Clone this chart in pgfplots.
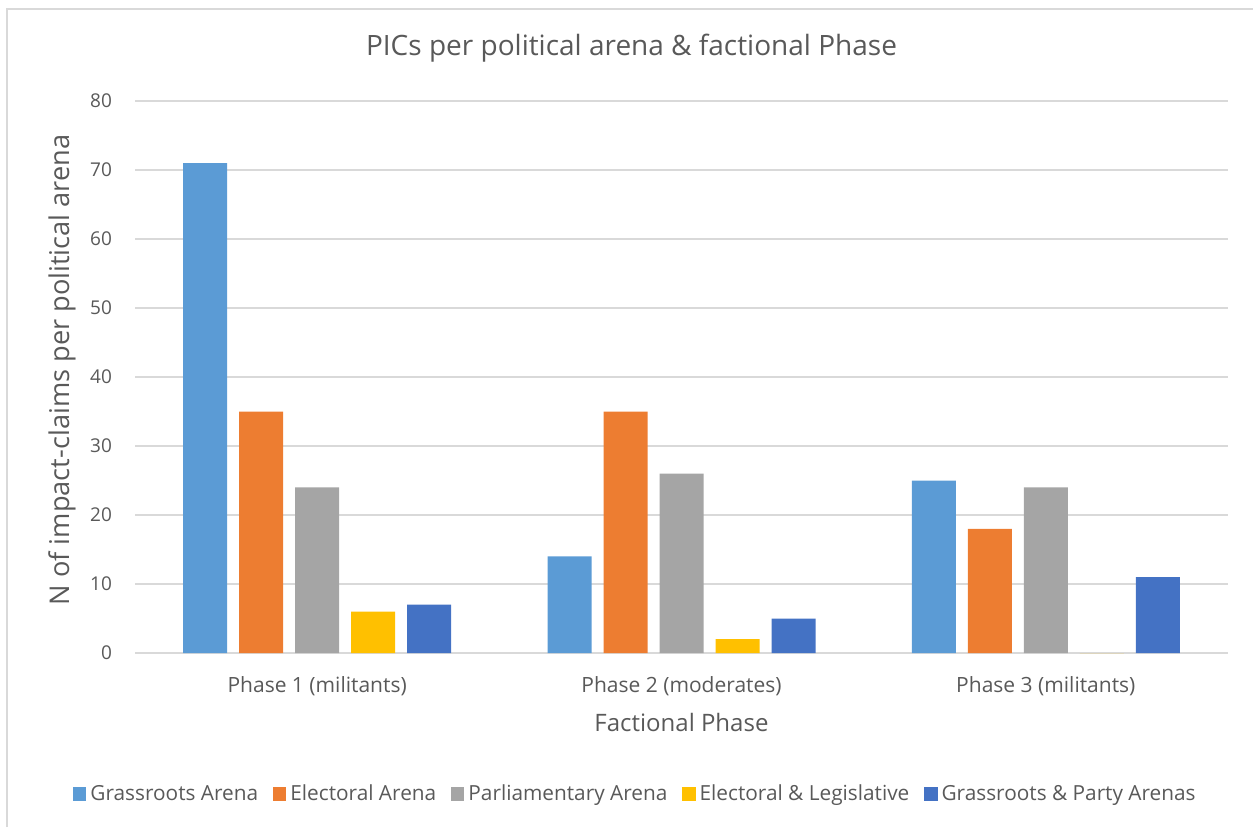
\documentclass[border=0pt]{standalone}
\usepackage{pgfplots}
\pgfplotsset{compat=1.18}
\usepackage{fontspec}
\setmainfont{Open Sans}
\definecolor{txt}{HTML}{595959}
\definecolor{gridc}{HTML}{D9D9D9}
\definecolor{c1}{HTML}{5B9BD5}
\definecolor{c2}{HTML}{ED7D31}
\definecolor{c3}{HTML}{A5A5A5}
\definecolor{c4}{HTML}{FFC000}
\definecolor{c5}{HTML}{4472C4}
\begin{document}
\begin{tikzpicture}
\path[use as bounding box] (0,0) rectangle (626.5pt,413.5pt);
\draw[gridc, line width=1pt] (3.7pt,0pt) -- (3.7pt,408.8pt) -- (626.5pt,408.8pt);
\begin{axis}[
  at={(67.5pt,87pt)}, anchor=south west,
  scale only axis, width=546.5pt, height=276pt,
  ybar=6pt, bar width=22pt,
  xmin=-0.5, xmax=2.5, ymin=0, ymax=80,
  xtick=data, xticklabels={Phase 1 (militants),Phase 2 (moderates),Phase 3 (militants)},
  ytick={0,10,...,80},
  major tick length=0pt,
  axis line style={draw=none},
  ymajorgrids=true, xmajorgrids=false,
  grid style={gridc, line width=0.9pt},
  /pgf/number format/assume math mode=true,
  every tick label/.append style={text=txt},
  yticklabel style={font=\fontsize{9.5pt}{11pt}\selectfont, xshift=-8pt},
  xticklabel style={font=\fontsize{10.5pt}{13pt}\selectfont, anchor=center, yshift=-16.5pt},
  title={PICs per political arena \& factional Phase},
  title style={font=\fontsize{14pt}{16pt}\selectfont, text=txt, at={(0.4543,1)}, anchor=center, yshift=20.5pt},
  xlabel={Factional Phase},
  xlabel style={font=\fontsize{12pt}{14pt}\selectfont, text=txt, at={(0.5,0)}, anchor=center, yshift=-34.5pt},
  ylabel={N of impact-claims per political arena},
  ylabel style={font=\fontsize{13.6pt}{16pt}\selectfont, text=txt, at={(-0.0668,0.513)}, anchor=center},
  legend style={at={(0.4588,-0.2554)}, anchor=center, draw=none, fill=none,
    legend columns=5, font=\fontsize{10.4pt}{13pt}\selectfont, text=txt,
    /tikz/every even column/.append style={column sep=5.5pt},
    legend cell align=left},
  legend image code/.code={\fill[#1] (0pt,-3.3pt) rectangle (6.6pt,3.3pt);},
]
\addplot[fill=c1, draw=none] coordinates {(0,71) (1,14) (2,25)};
\addplot[fill=c2, draw=none] coordinates {(0,35) (1,35) (2,18)};
\addplot[fill=c3, draw=none] coordinates {(0,24) (1,26) (2,24)};
\addplot[fill=c4, draw=none] coordinates {(0,6) (1,2) (2,0)};
\addplot[fill=c5, draw=none] coordinates {(0,7) (1,5) (2,11)};
\legend{Grassroots Arena,Electoral Arena,Parliamentary Arena,Electoral \& Legislative,Grassroots \& Party Arenas}
\end{axis}
\end{tikzpicture}
\end{document}
